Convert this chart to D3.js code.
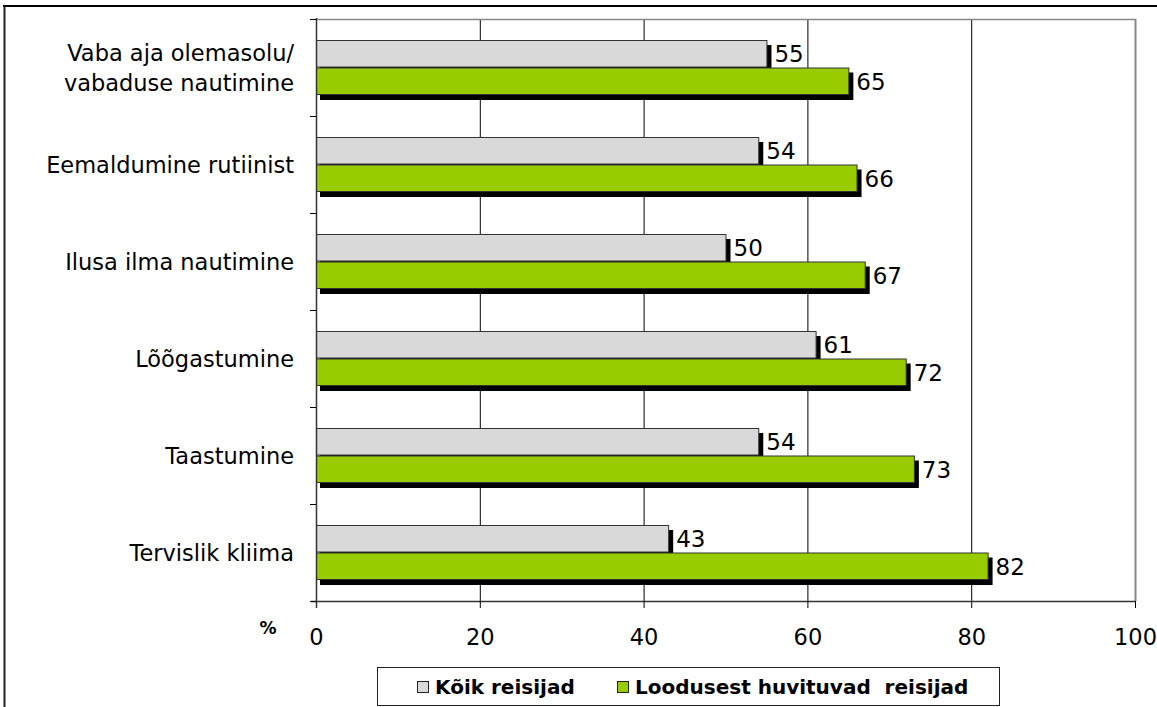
<!DOCTYPE html>
<html>
<head>
<meta charset="utf-8">
<script src="https://cdn.jsdelivr.net/npm/d3@7"></script>
<style>
  html, body { margin: 0; padding: 0; background: #fff; }
  svg { display: block; font-family: "DejaVu Sans", Verdana, sans-serif; }
</style>
</head>
<body>
<svg id="chart" width="1157" height="707"></svg>
<script>
// Reasons for travelling, % of respondents
const categories = [
  ["Vaba aja olemasolu/", "vabaduse nautimine"],
  ["Eemaldumine rutiinist"],
  ["Ilusa ilma nautimine"],
  ["Lõõgastumine"],
  ["Taastumine"],
  ["Tervislik kliima"]
];
const allTravellers = [55, 54, 50, 61, 54, 43];
const natureTravellers = [65, 66, 67, 72, 73, 82];
const seriesNames = ["Kõik reisijad", "Loodusest huvituvad  reisijad"];
const seriesColors = ["#d9d9d9", "#99cc00"];
const xTicks = [0, 20, 40, 60, 80, 100];

const svg = d3.select("#chart");

// outer frame (top and left edges visible)
svg.append("line").attr("x1", 3).attr("x2", 1157).attr("y1", 6).attr("y2", 6)
  .attr("stroke", "#000").attr("stroke-width", 2);
svg.append("line").attr("x1", 4.5).attr("x2", 4.5).attr("y1", 6).attr("y2", 707)
  .attr("stroke", "#222").attr("stroke-width", 2);

const plot = { left: 316, right: 1135, top: 19, bottom: 601 };

const x = d3.scaleLinear().domain([0, 100]).range([plot.left, plot.right]);
const y = d3.scaleBand().domain(d3.range(categories.length))
  .range([plot.top, plot.bottom]).paddingInner(0).paddingOuter(0);
const barH = 27.5;

// gridlines
svg.append("g").selectAll("line").data(xTicks.filter(t => t > 0 && t < 100)).join("line")
  .attr("x1", d => x(d) + 0.5).attr("x2", d => x(d) + 0.5)
  .attr("y1", plot.top).attr("y2", plot.bottom)
  .attr("stroke", "#000").attr("stroke-width", 1);

// plot area border (top and right)
svg.append("line").attr("x1", plot.left).attr("x2", plot.right + 1)
  .attr("y1", plot.top + 0.5).attr("y2", plot.top + 0.5)
  .attr("stroke", "#888").attr("stroke-width", 1.5);
svg.append("line").attr("x1", plot.right + 0.5).attr("x2", plot.right + 0.5)
  .attr("y1", plot.top).attr("y2", plot.bottom)
  .attr("stroke", "#888").attr("stroke-width", 2);

// bars with drop shadows
const rows = categories.map((c, i) => ({ i, vals: [allTravellers[i], natureTravellers[i]] }));
const g = svg.append("g");
rows.forEach(r => {
  const cy = y(r.i) + y.bandwidth() / 2;
  r.vals.forEach((v, k) => {
    const top = cy - barH + k * barH;
    g.append("rect")
      .attr("x", x(0) + 4).attr("y", top + 5)
      .attr("width", x(v) - x(0) + 1).attr("height", barH)
      .attr("fill", "#000");
    g.append("rect")
      .attr("x", x(0) + 0.5).attr("y", top + 0.5)
      .attr("width", x(v) - x(0)).attr("height", barH - 1)
      .attr("fill", seriesColors[k]).attr("stroke", "#333").attr("stroke-width", 1);
    g.append("text")
      .attr("x", x(v) + 8).attr("y", top + barH / 2)
      .attr("dy", "0.36em")
      .attr("font-size", 23).attr("fill", "#000")
      .text(v);
  });
});

// axes
const xAxis = d3.axisBottom(x).tickValues(xTicks).tickSize(7).tickPadding(8);
const ax = svg.append("g").attr("transform", `translate(0,${plot.bottom})`).call(xAxis);
ax.select(".domain").attr("stroke", "#333").attr("stroke-width", 1.5).attr("d", `M${plot.left - 5},0.5H${plot.right + 1}`);
ax.selectAll(".tick line").attr("stroke", "#000");
ax.selectAll(".tick text").attr("font-size", 22.5).attr("fill", "#000")
  .attr("font-family", "\"DejaVu Sans\", Verdana, sans-serif")
  .attr("y", 44).attr("dy", null);

const yTicks = d3.range(categories.length + 1).map(i => plot.top + i * y.step());
svg.append("line").attr("x1", plot.left + 0.5).attr("x2", plot.left + 0.5)
  .attr("y1", plot.top - 1).attr("y2", plot.bottom + 7)
  .attr("stroke", "#333").attr("stroke-width", 1.5);
svg.append("g").selectAll("line").data(yTicks).join("line")
  .attr("x1", plot.left - 6).attr("x2", plot.left)
  .attr("y1", d => Math.round(d) + 0.5).attr("y2", d => Math.round(d) + 0.5)
  .attr("stroke", "#000");

// category labels
const labels = svg.append("g").attr("font-size", 22.5).attr("fill", "#000").attr("text-anchor", "end");
categories.forEach((lines, i) => {
  const cy = y(i) + y.bandwidth() / 2;
  const lh = 30;
  lines.forEach((ln, j) => {
    labels.append("text")
      .attr("x", 294)
      .attr("y", cy + (j - (lines.length - 1) / 2) * lh)
      .attr("dy", "0.36em")
      .text(ln);
  });
});

// unit label
svg.append("text").attr("x", 268).attr("y", 628).attr("dy", "0.36em")
  .attr("text-anchor", "middle").attr("font-size", 17).attr("font-weight", "bold")
  .text("%");

// legend
const lg = svg.append("g");
lg.append("rect").attr("x", 377.5).attr("y", 667.5).attr("width", 622).attr("height", 38)
  .attr("fill", "#fff").attr("stroke", "#222").attr("stroke-width", 1);
const legendX = [417, 617];
seriesNames.forEach((name, k) => {
  lg.append("rect").attr("x", legendX[k] + 0.5).attr("y", 681.5).attr("width", 11).attr("height", 11)
    .attr("fill", seriesColors[k]).attr("stroke", "#222");
  lg.append("text").attr("x", legendX[k] + 18).attr("y", 687).attr("dy", "0.36em")
    .attr("font-size", 20).attr("font-weight", "bold").attr("xml:space", "preserve")
    .style("white-space", "pre")
    .text(name);
});
</script>
</body>
</html>
